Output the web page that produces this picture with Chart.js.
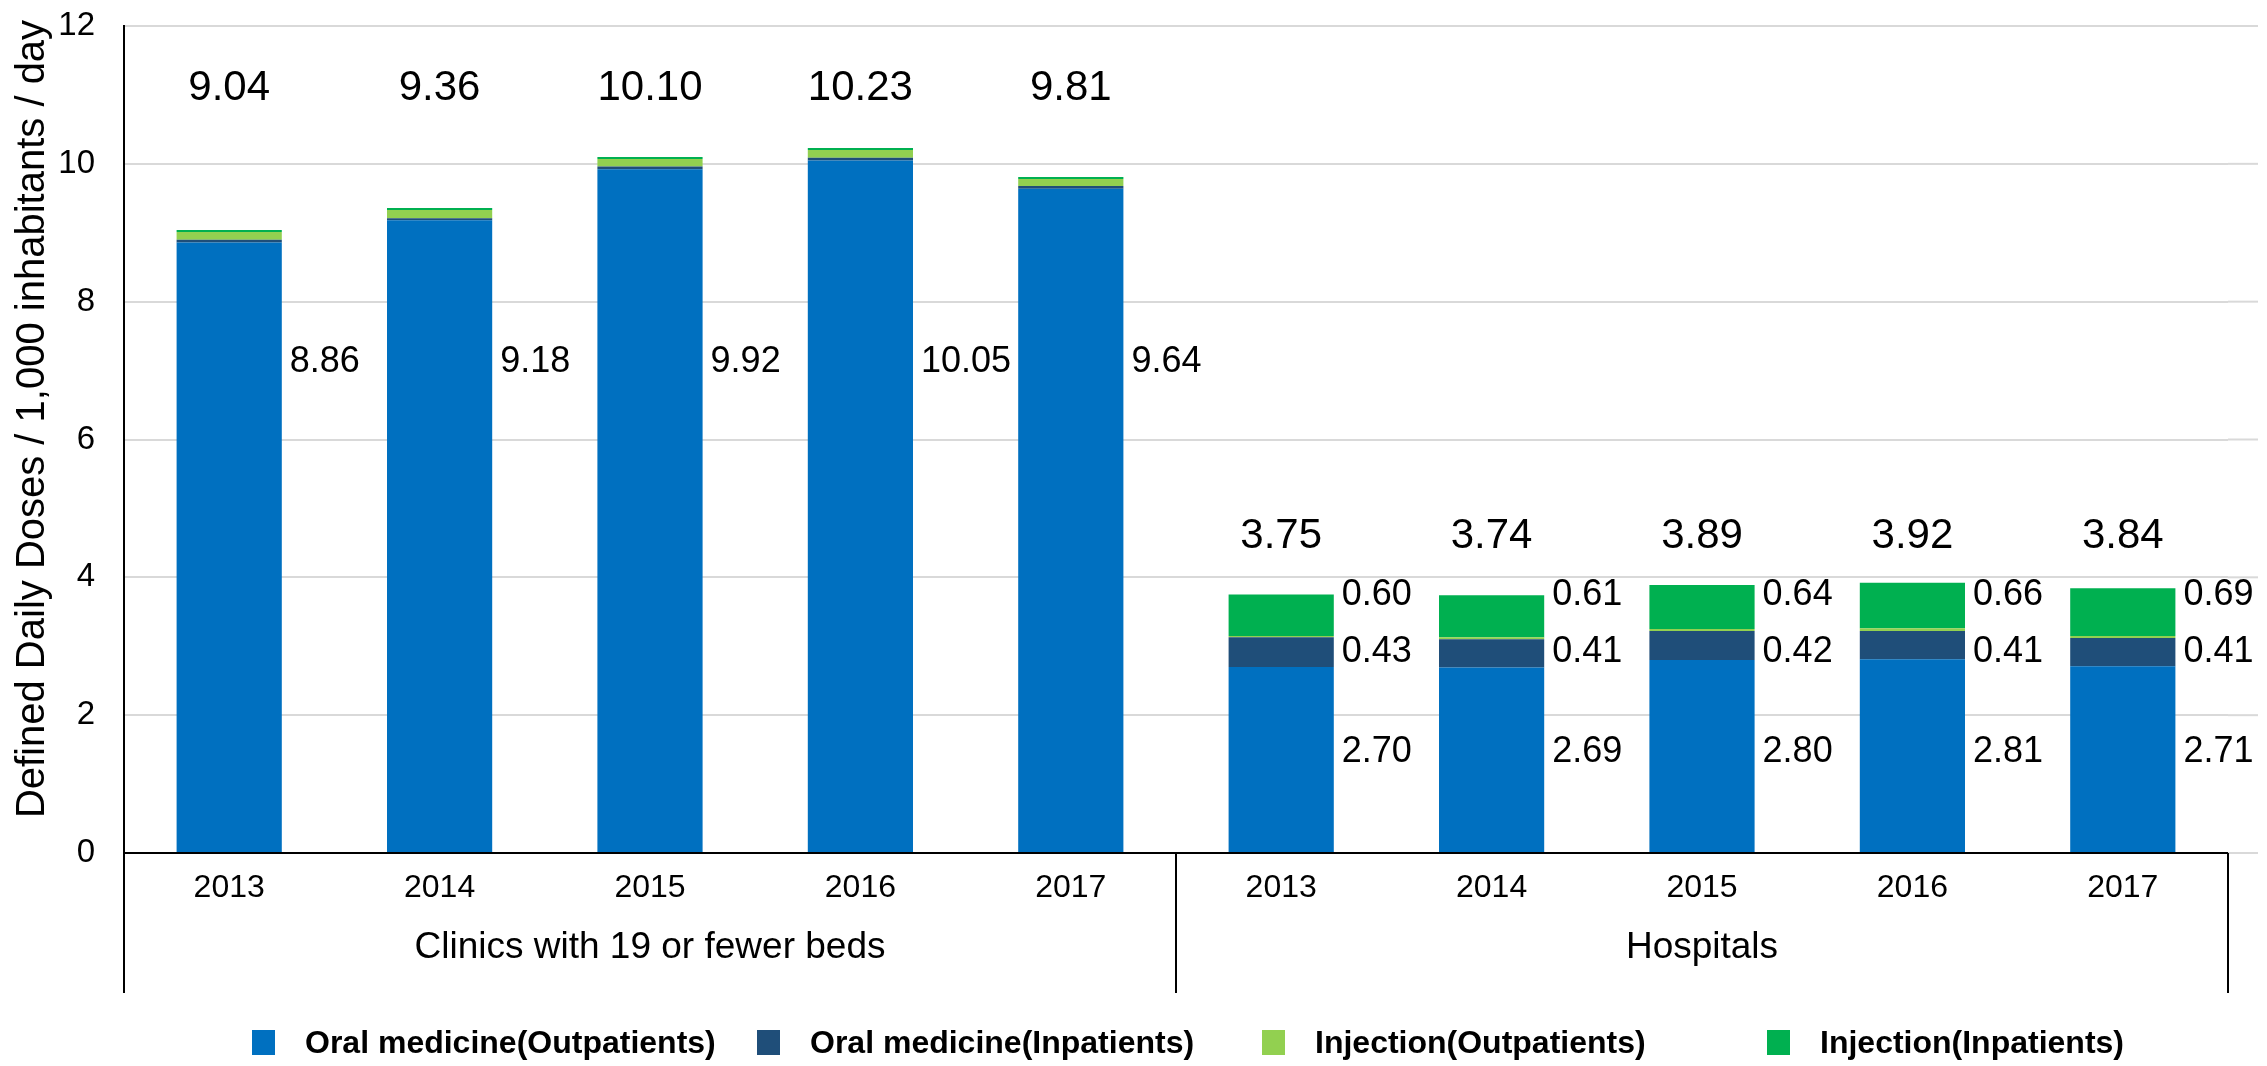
<!DOCTYPE html>
<html>
<head>
<meta charset="utf-8">
<script src="https://cdn.jsdelivr.net/npm/chart.js@4.4.0/dist/chart.umd.min.js"></script>
<style>
  html, body { margin: 0; background: #fff; }
</style>
</head>
<body>
<canvas id="dddChart" width="2267" height="1066"></canvas>
<script>
// Years shown under each bar, and the two facility groups
const years = ["2013", "2014", "2015", "2016", "2017", "2013", "2014", "2015", "2016", "2017"];
const groups = ["Clinics with 19 or fewer beds", "Hospitals"];

// DDD per 1,000 inhabitants per day, by route and patient type
const oralOutpatients = [8.86, 9.18, 9.92, 10.05, 9.64, 2.70, 2.69, 2.80, 2.81, 2.71];
const oralInpatients = [0.04, 0.03, 0.04, 0.04, 0.04, 0.43, 0.41, 0.42, 0.41, 0.41];
const injectionOutpatients = [0.11, 0.12, 0.11, 0.11, 0.10, 0.02, 0.03, 0.03, 0.04, 0.03];
const injectionInpatients = [0.03, 0.03, 0.03, 0.03, 0.03, 0.60, 0.61, 0.64, 0.66, 0.69];
const totals = [9.04, 9.36, 10.10, 10.23, 9.81, 3.75, 3.74, 3.89, 3.92, 3.84];

const yTicks = [0, 2, 4, 6, 8, 10, 12];
const yTitle = "Defined Daily Doses / 1,000 inhabitants / day";

const FONT = "'Liberation Sans', Arial, sans-serif";

// grid lines run a little past the last category
const gridExtend = {
  id: "gridExtend",
  beforeDatasetsDraw(chart) {
    const { ctx, chartArea, scales } = chart;
    ctx.save();
    ctx.strokeStyle = "#d9d9d9";
    ctx.lineWidth = 2;
    yTicks.forEach((v) => {
      const y = scales.y.getPixelForValue(v);
      ctx.beginPath();
      ctx.moveTo(chartArea.right, y);
      ctx.lineTo(2258, y);
      ctx.stroke();
    });
    ctx.restore();
  },
};

// value labels: totals above the bars, segment values to the right
const valueLabels = {
  id: "valueLabels",
  afterDatasetsDraw(chart, args, opts) {
    const { ctx, scales } = chart;
    const bars = chart.getDatasetMeta(0).data;
    ctx.save();
    ctx.fillStyle = "#000";
    bars.forEach((bar, i) => {
      const g = i < 5 ? 0 : 1;
      const rows = opts.rows[g];
      ctx.font = "42px " + FONT;
      ctx.textAlign = "center";
      ctx.textBaseline = "middle";
      ctx.fillText(totals[i].toFixed(2), bar.x, scales.y.getPixelForValue(rows.total));

      ctx.font = "36px " + FONT;
      ctx.textAlign = "left";
      const x = bar.x + bar.width / 2 + 8;
      ctx.fillText(oralOutpatients[i].toFixed(2), x, scales.y.getPixelForValue(rows.oralOut));
      if (g === 1) {
        ctx.fillText(oralInpatients[i].toFixed(2), x, scales.y.getPixelForValue(rows.oralIn));
        ctx.fillText(injectionInpatients[i].toFixed(2), x, scales.y.getPixelForValue(rows.injIn));
      }
    });
    ctx.restore();
  },
};

// two-level category axis: group names and divider lines, plus the y title
const groupAxis = {
  id: "groupAxis",
  afterDraw(chart) {
    const { ctx, chartArea, scales } = chart;
    const x = scales.x;
    const bottom = 993;
    ctx.save();
    ctx.strokeStyle = "#000";
    ctx.lineWidth = 2;
    [chartArea.left, x.getPixelForValue(4.5), chartArea.right].forEach((px) => {
      ctx.beginPath();
      ctx.moveTo(px, chartArea.bottom);
      ctx.lineTo(px, bottom);
      ctx.stroke();
    });
    ctx.fillStyle = "#000";
    ctx.font = "37px " + FONT;
    ctx.textAlign = "center";
    ctx.textBaseline = "middle";
    ctx.fillText(groups[0], x.getPixelForValue(2), 948);
    ctx.fillText(groups[1], x.getPixelForValue(7), 948);

    ctx.translate(33, 419);
    ctx.rotate(-Math.PI / 2);
    ctx.font = "40px " + FONT;
    ctx.fillText(yTitle, 0, 0);
    ctx.restore();
  },
};

// legend with evenly spaced entries along the bottom
const bottomLegend = {
  id: "bottomLegend",
  afterDraw(chart) {
    const { ctx } = chart;
    ctx.save();
    ctx.font = "bold 32px " + FONT;
    ctx.textAlign = "left";
    ctx.textBaseline = "middle";
    chart.data.datasets.forEach((ds, i) => {
      const bx = 252 + i * 505;
      ctx.fillStyle = ds.backgroundColor;
      ctx.fillRect(bx, 1030, 23, 25);
      ctx.fillStyle = "#000";
      ctx.fillText(ds.label, bx + 53, 1044);
    });
    ctx.restore();
  },
};

new Chart(document.getElementById("dddChart"), {
  type: "bar",
  data: {
    labels: years,
    datasets: [
      { label: "Oral medicine(Outpatients)", data: oralOutpatients, backgroundColor: "#0070C0" },
      { label: "Oral medicine(Inpatients)", data: oralInpatients, backgroundColor: "#1F4E79" },
      { label: "Injection(Outpatients)", data: injectionOutpatients, backgroundColor: "#92D050" },
      { label: "Injection(Inpatients)", data: injectionInpatients, backgroundColor: "#00B050" },
    ],
  },
  options: {
    responsive: false,
    animation: false,
    devicePixelRatio: 1,
    categoryPercentage: 1,
    barPercentage: 0.5,
    layout: { padding: { top: 26, right: 39, left: 0, bottom: 0 } },
    plugins: {
      legend: { display: false },
      tooltip: { enabled: false },
      valueLabels: {
        rows: [
          { total: 11.09, oralOut: 7.13 },
          { total: 4.6, oralOut: 1.46, oralIn: 2.91, injIn: 3.74 },
        ],
      },
    },
    scales: {
      x: {
        stacked: true,
        grid: { display: false, drawTicks: false },
        border: { display: true, color: "#000", width: 2 },
        ticks: { color: "#000", font: { size: 32, family: FONT }, padding: 16, maxRotation: 0, autoSkip: false },
        afterFit(scale) { scale.height = 213; },
      },
      y: {
        stacked: true,
        min: 0,
        max: 12,
        ticks: { stepSize: 2, color: "#000", font: { size: 33, family: FONT }, padding: 29 },
        grid: { color: "#d9d9d9", lineWidth: 2, drawTicks: false },
        border: { color: "#000", width: 2 },
        afterFit(scale) {
          scale.width = 124;
          scale.paddingTop = 0;
          scale.paddingBottom = 0;
        },
      },
    },
  },
  plugins: [gridExtend, valueLabels, groupAxis, bottomLegend],
});
</script>
</body>
</html>
